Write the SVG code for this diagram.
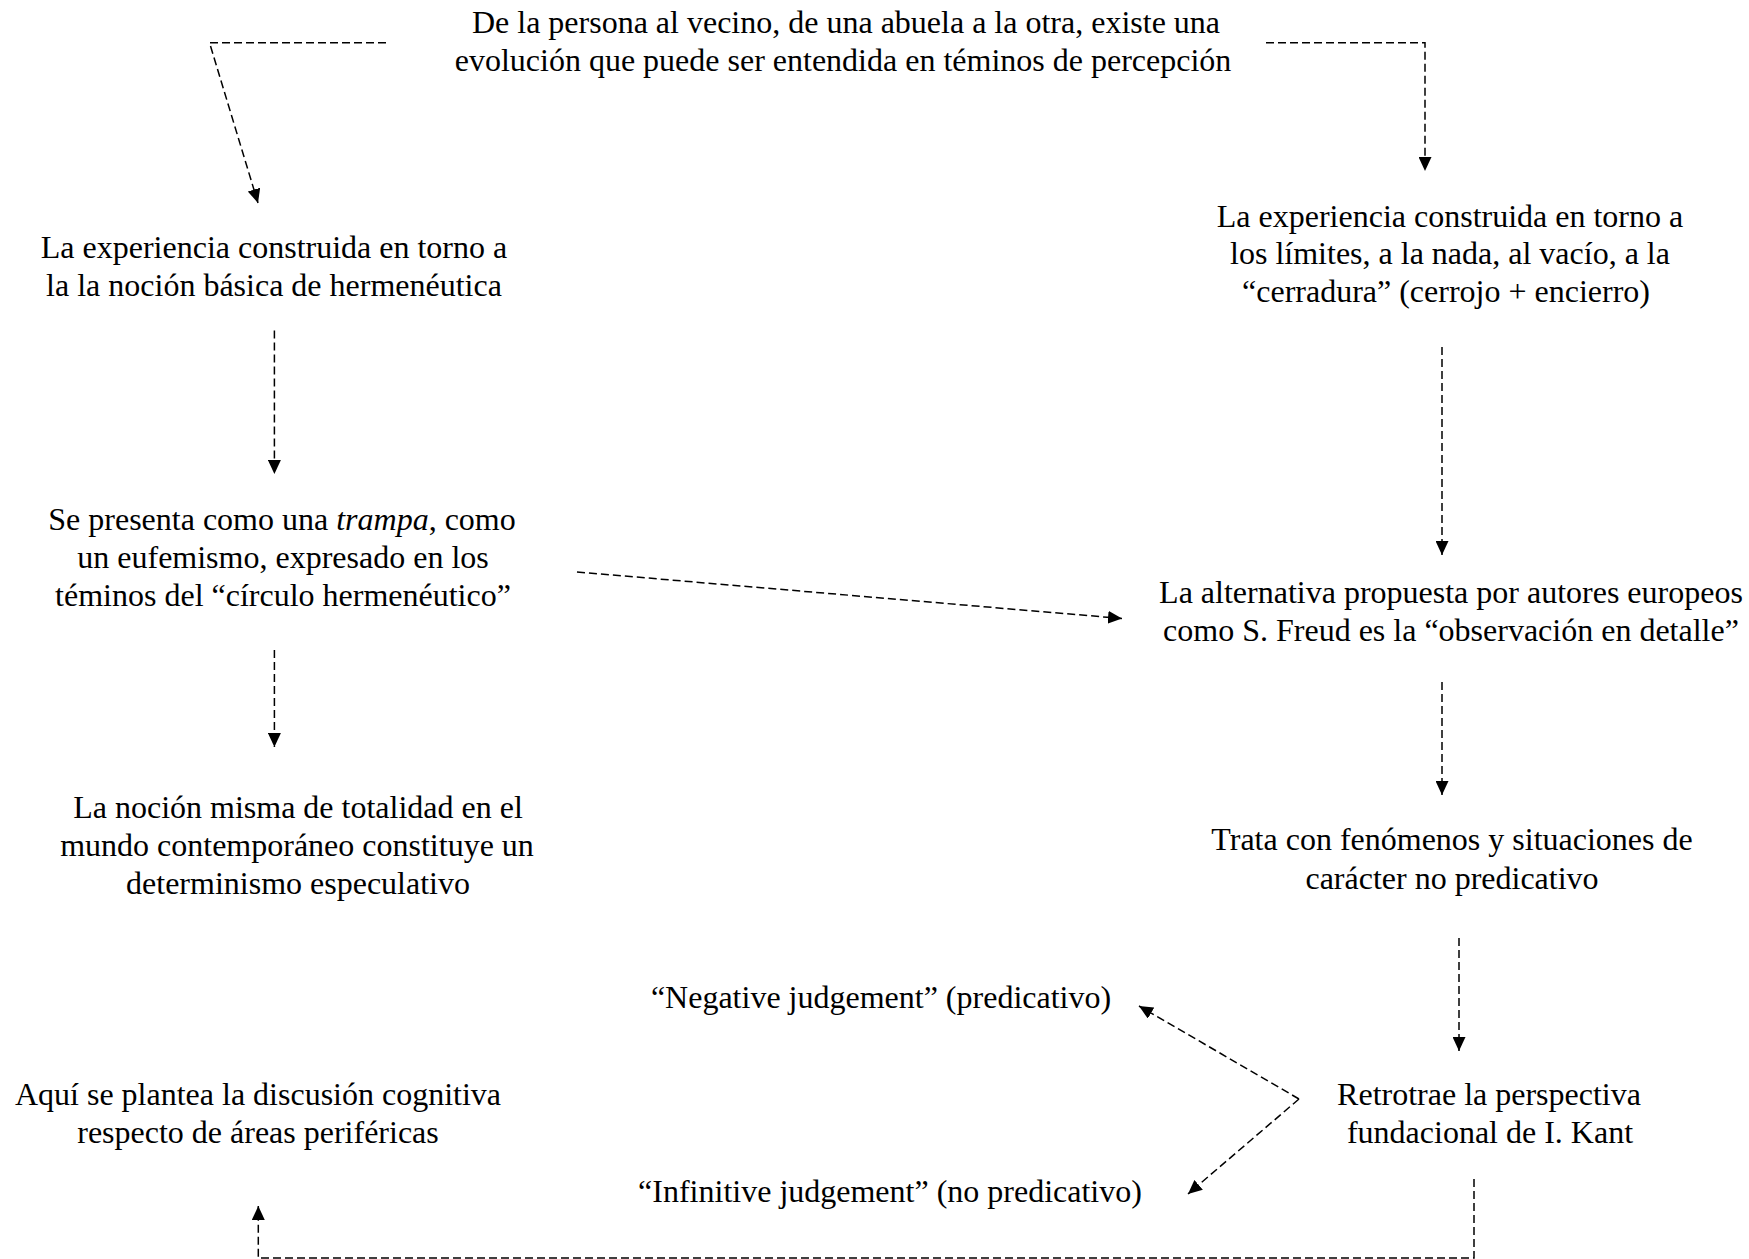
<svg xmlns="http://www.w3.org/2000/svg" width="1749" height="1259" viewBox="0 0 1749 1259">
<style>
text{font-family:"Liberation Serif","Times New Roman",serif;font-size:32px;fill:#000;text-anchor:middle}
.c{fill:none;stroke:#000;stroke-width:1.5;stroke-dasharray:8 4}
.g{stroke:#777}
</style>
<defs>
<marker id="ah" markerUnits="userSpaceOnUse" markerWidth="15" markerHeight="13" refX="14" refY="6.5" orient="auto">
<path d="M0,0 L14,6.5 L0,13 z" fill="#000"/>
</marker>
</defs>
<rect width="1749" height="1259" fill="#fff"/>
<g id="connectors">
<path class="c" d="M386,42.7 L209.5,42.7 L258,203" marker-end="url(#ah)"/>
<path class="c" d="M1266,42.7 L1425,42.7 L1425,171" marker-end="url(#ah)"/>
<path class="c" d="M274.4,330.6 L274.4,474" marker-end="url(#ah)"/>
<path class="c" d="M274.4,650 L274.4,747" marker-end="url(#ah)"/>
<path class="c" d="M577,572 L1122,618.5" marker-end="url(#ah)"/>
<path class="c" d="M1442,347 L1442,555" marker-end="url(#ah)"/>
<path class="c" d="M1442,682 L1442,795" marker-end="url(#ah)"/>
<path class="c" d="M1459,938 L1459,1051" marker-end="url(#ah)"/>
<path class="c" d="M1299,1099 L1139,1006" marker-end="url(#ah)"/>
<path class="c" d="M1299,1099 L1188,1194" marker-end="url(#ah)"/>
<path class="c" d="M1474,1179 L1474,1258 L258.3,1258 L258.3,1206" marker-end="url(#ah)"/>
</g>
<g id="n-top">
<text x="846" y="33">De la persona al vecino, de una abuela a la otra, existe una</text>
<text x="843" y="71">evolución que puede ser entendida en téminos de percepción</text>
</g>
<g id="n-hermeneutica">
<text x="274" y="258">La experiencia construida en torno a</text>
<text x="274" y="296">la la noción básica de hermenéutica</text>
</g>
<g id="n-limites">
<text x="1450" y="227">La experiencia construida en torno a</text>
<text x="1450" y="264">los límites, a la nada, al vacío, a la</text>
<text x="1446" y="302">“cerradura” (cerrojo + encierro)</text>
</g>
<g id="n-trampa">
<text x="282" y="530">Se presenta como una <tspan font-style="italic">trampa</tspan>, como</text>
<text x="283" y="568">un eufemismo, expresado en los</text>
<text x="283" y="606">téminos del “círculo hermenéutico”</text>
</g>
<g id="n-totalidad">
<text x="298" y="818">La noción misma de totalidad en el</text>
<text x="297" y="856">mundo contemporáneo constituye un</text>
<text x="298" y="894">determinismo especulativo</text>
</g>
<g id="n-alternativa">
<text x="1451" y="603">La alternativa propuesta por autores europeos</text>
<text x="1451" y="641">como S. Freud es la “observación en detalle”</text>
</g>
<g id="n-trata">
<text x="1452" y="850">Trata con fenómenos y situaciones de</text>
<text x="1452" y="889">carácter no predicativo</text>
</g>
<g id="n-negative">
<text x="881" y="1008">“Negative judgement” (predicativo)</text>
</g>
<g id="n-aqui">
<text x="258" y="1105">Aquí se plantea la discusión cognitiva</text>
<text x="258" y="1143">respecto de áreas periféricas</text>
</g>
<g id="n-kant">
<text x="1489" y="1105">Retrotrae la perspectiva</text>
<text x="1490" y="1143">fundacional de I. Kant</text>
</g>
<g id="n-infinitive">
<text x="890" y="1202">“Infinitive judgement” (no predicativo)</text>
</g>
</svg>
